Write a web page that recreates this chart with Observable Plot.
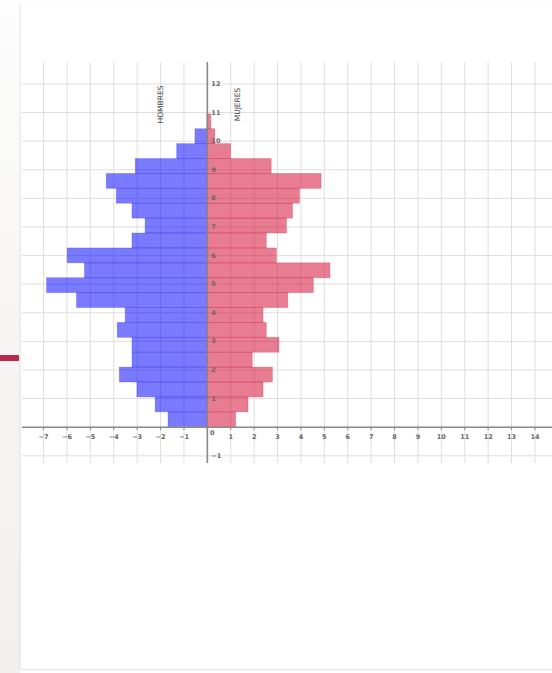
<!DOCTYPE html>
<html>
<head>
<meta charset="utf-8">
<script src="https://cdn.jsdelivr.net/npm/d3@7"></script>
<script src="https://cdn.jsdelivr.net/npm/@observablehq/plot@0.6"></script>
<style>
  html, body { margin: 0; padding: 0; background: #ffffff; }
  body { width: 552px; height: 673px; position: relative; overflow: hidden; font-family: "DejaVu Sans", sans-serif; }
  #strip { position: absolute; left: 0; top: 0; width: 20px; height: 673px;
           background: linear-gradient(to bottom, #fdfdfd 0%, #f6f5f3 50%, #f1f0ee 100%); }
  #panel { position: absolute; left: 20px; top: 5px; width: 540px; height: 664px; background: #ffffff;
           border-left: 1px solid #ececec; border-bottom: 1px solid #e6e6e6; box-shadow: -1px 0 2px rgba(0,0,0,0.04); }
  #mark { position: absolute; left: 0; top: 355px; width: 19px; height: 6px; background: #b5294f; }
  #chart { position: absolute; left: 0; top: 0; }
</style>
</head>
<body>
<div id="strip"></div>
<div id="panel"></div>
<div id="mark"></div>
<div id="chart"></div>
<script>
// Age groups (bottom to top), five-year bins
const ageStart = [0, 5, 10, 15, 20, 25, 30, 35, 40, 45, 50, 55, 60, 65, 70, 75, 80, 85, 90, 95, 100];
// Bar lengths (x-axis units)
const hombres = [1.66, 2.21, 2.99, 3.74, 3.2, 3.2, 3.83, 3.49, 5.57, 6.85, 5.23, 5.97, 3.2, 2.64, 3.2, 3.87, 4.3, 3.06, 1.29, 0.51, 0];
const mujeres = [1.23, 1.76, 2.4, 2.8, 1.94, 3.08, 2.54, 2.4, 3.46, 4.55, 5.26, 2.97, 2.54, 3.4, 3.66, 3.96, 4.88, 2.75, 1.01, 0.34, 0.17];
// Axis ticks
const xTicks = [-7, -6, -5, -4, -3, -2, -1, 1, 2, 3, 4, 5, 6, 7, 8, 9, 10, 11, 12, 13, 14];
const yTickLabels = [-1, 1, 2, 3, 4, 5, 6, 7, 8, 9, 10, 11, 12];
const gridUnit = 9.6; // one y grid step, in years
const seriesLabels = ["HOMBRES", "MUJERES"];

const binWidth = 5;
const men = ageStart.map((a, i) => ({a0: a, a1: a + binWidth, v: hombres[i]}));
const women = ageStart.map((a, i) => ({a0: a, a1: a + binWidth, v: mujeres[i]}));
const yTicks = yTickLabels.map(k => ({k, y: k * gridUnit}));
const xGrid = [-7, -6, -5, -4, -3, -2, -1, 0, 1, 2, 3, 4, 5, 6, 7, 8, 9, 10, 11, 12, 13, 14];
const yGrid = [-1, 0, 1, 2, 3, 4, 5, 6, 7, 8, 9, 10, 11, 12].map(k => k * gridUnit);

const fmt = v => (v < 0 ? "\u2212" + Math.abs(v) : String(v));

const chart = Plot.plot({
  width: 552,
  height: 673,
  marginLeft: 22,
  marginRight: 0,
  marginTop: 62,
  marginBottom: 210,
  x: {type: "linear", domain: [-7.9, 14.75], axis: null},
  y: {type: "linear", domain: [-12.18, 122.4], axis: null},
  style: {background: "transparent", fontFamily: "DejaVu Sans, sans-serif", overflow: "visible"},
  marks: [
    Plot.ruleX(xGrid, {stroke: "#dedede", strokeWidth: 1}),
    Plot.ruleY(yGrid, {stroke: "#dedede", strokeWidth: 1}),
    Plot.rectX(men, {x1: 0, x2: d => -d.v, y1: "a0", y2: "a1", fill: "#0000ff", fillOpacity: 0.52,
                     stroke: "#2a2ad0", strokeOpacity: 0.3, strokeWidth: 0.8}),
    Plot.rectX(women, {x1: 0, x2: "v", y1: "a0", y2: "a1", fill: "#d40f35", fillOpacity: 0.54,
                       stroke: "#c0183c", strokeOpacity: 0.3, strokeWidth: 0.8}),
    Plot.ruleY([0], {stroke: "#8a8a8a", strokeWidth: 1.6}),
    Plot.ruleX([0], {stroke: "#8a8a8a", strokeWidth: 1.6}),
    Plot.ruleX(xTicks, {x: d => d, y1: 0, y2: -1.1, stroke: "#8a8a8a", strokeWidth: 1}),
    Plot.text(xTicks, {x: d => d, y: 0, text: d => fmt(d), dy: 10, fontSize: 6.5, fill: "#666", fontWeight: "bold"}),
    Plot.text(yTicks, {x: 0, y: "y", text: d => fmt(d.k), dx: 4, textAnchor: "start", fontSize: 6.5, fill: "#666", fontWeight: "bold"}),
    Plot.text(["0"], {x: 0, y: 0, dx: 5, dy: 6, fontSize: 6.5, fill: "#666", fontWeight: "bold"}),
    Plot.text([seriesLabels[0]], {x: -2.0, y: 108.3, rotate: -90, fontSize: 7.5, fill: "#444"}),
    Plot.text([seriesLabels[1]], {x: 1.28, y: 108.3, rotate: -90, fontSize: 7.5, fill: "#444"})
  ]
});
document.getElementById("chart").appendChild(chart);
</script>
</body>
</html>
